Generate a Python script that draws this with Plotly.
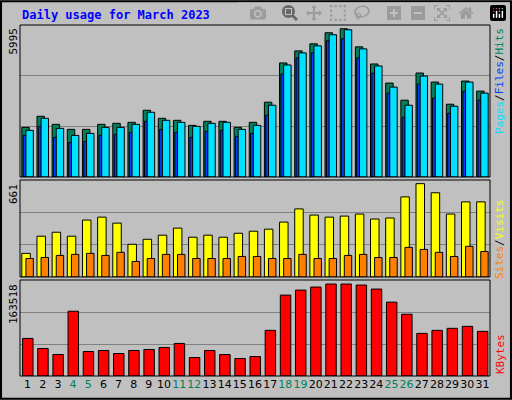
import plotly.graph_objects as go

days = list(range(1, 32))
weekend = [4, 5, 11, 12, 18, 19, 25, 26]

hits = [1958, 2395, 2077, 1879, 1879, 2077, 2117, 2156, 2633, 2315, 2236, 2037, 2196, 2196, 1958, 2156,
        2950, 4498, 4974, 5252, 5689, 5848, 5133, 4458, 3704, 3030, 4101, 3744, 2871, 3784, 3387]
pages = [1839, 2315, 1918, 1641, 1720, 1958, 1958, 2077, 2553, 2236, 2156, 1998, 2117, 2156, 1879, 2037,
         2831, 4419, 4895, 5173, 5610, 5808, 5054, 4379, 3546, 2831, 3982, 3665, 2792, 3744, 3308]
files = [1641, 1998, 1561, 1363, 1402, 1641, 1680, 1760, 2196, 1879, 1760, 1561, 1799, 1839, 1601, 1720,
         2434, 4062, 4697, 4895, 5371, 5451, 4697, 4101, 3308, 2355, 3665, 3109, 2514, 3387, 3030]
visits = [161, 278, 305, 278, 388, 408, 367, 223, 257, 285, 333, 271, 285, 271, 298, 312,
          326, 374, 464, 422, 408, 415, 429, 395, 402, 546, 636, 574, 429, 512, 512]
sites = [126, 133, 147, 154, 161, 147, 168, 106, 126, 154, 154, 126, 126, 126, 140, 140,
         126, 126, 154, 126, 126, 147, 154, 133, 133, 202, 188, 168, 140, 209, 174]
kbytes = [64030, 46880, 36590, 110340, 41730, 43450, 38300, 43450, 45160, 48590, 55450, 31440, 43450,
          36590, 29730, 33160, 77750, 137780, 146350, 151500, 156650, 156650, 154930, 148070, 125770,
          105190, 72610, 77750, 81180, 84610, 76040]
max_hits, max_visits, max_kb = 5995, 661, 163518

W, H = 512, 400
x0, x1 = 20 / W, 490 / W
def yd(top, bot):
    return [1 - bot / H, 1 - top / H]

fig = go.Figure()
line = dict(color="black", width=1)

def bar(y, color, off, w, ax):
    fig.add_trace(go.Bar(x=days, y=y, offset=off, width=w, marker=dict(color=color, line=line),
                         xaxis="x" + ax, yaxis="y" + ax, showlegend=False, hoverinfo="y"))

bar(hits, "#00805C", -0.38, 0.49, "")
bar(files, "#0040FF", -0.29, 0.2, "")
bar(pages, "#00E0FF", -0.11, 0.49, "")
bar(visits, "#FFFF00", -0.38, 0.56, "2")
bar(sites, "#FF8000", -0.11, 0.49, "2")
bar(kbytes, "#FF0000", -0.33, 0.69, "3")

ticktext = [f"<span style='color:#00805C'>{d}</span>" if d in weekend else str(d) for d in days]
xcommon = dict(range=[0.5, 31.5], domain=[x0, x1], showgrid=False, zeroline=False)
ycommon = dict(showticklabels=False, ticks="", gridcolor="#808080", gridwidth=1, zeroline=False)

fig.update_layout(
    width=W, height=H, margin=dict(l=0, r=0, t=0, b=0),
    paper_bgcolor="#C0C0C0", plot_bgcolor="#C0C0C0", barmode="overlay",
    font=dict(family="DejaVu Sans Mono", size=11, color="black"),
    xaxis=dict(**xcommon, showticklabels=False, anchor="y"),
    xaxis2=dict(**xcommon, showticklabels=False, anchor="y2"),
    xaxis3=dict(**xcommon, anchor="y3", tickvals=days, ticktext=ticktext, ticks="", tickangle=0,
                tickfont=dict(size=11, family="DejaVu Sans")),
    yaxis=dict(**ycommon, domain=yd(25, 177), range=[0, max_hits], tickvals=[max_hits / 3, 2 * max_hits / 3], anchor="x"),
    yaxis2=dict(**ycommon, domain=yd(180, 277), range=[0, max_visits], tickvals=[max_visits / 3, 2 * max_visits / 3], anchor="x2"),
    yaxis3=dict(**ycommon, domain=yd(280, 376), range=[0, max_kb], tickvals=[max_kb / 3, 2 * max_kb / 3], anchor="x3"),
)

shapes = [dict(type="rect", xref="paper", yref="paper", x0=0.002, x1=0.998, y0=0.003, y1=0.997,
               line=dict(color="black", width=2))]
for top, bot in [(25, 177), (180, 277), (280, 376)]:
    d = yd(top, bot)
    shapes.append(dict(type="rect", xref="paper", yref="paper", x0=x0, x1=x1, y0=d[0], y1=d[1],
                       line=dict(color="black", width=1)))
fig.update_layout(shapes=shapes)

ann = [dict(text="<b>Daily usage for March 2023</b>", x=20 / W, y=1 - 15 / H, xanchor="left", yanchor="middle",
            font=dict(color="#0000FF", size=12))]
for label, top in [(str(max_hits), 26), (str(max_visits), 182), (str(max_kb), 282)]:
    ann.append(dict(text=label, textangle=-90, x=13 / W, y=1 - top / H, xanchor="center", yanchor="top"))
ann.append(dict(text="<span style='color:#00E0FF'>Pages</span>/<span style='color:#0040FF'>Files</span>/<span style='color:#00805C'>Hits</span>",
                textangle=-90, x=500 / W, y=1 - 26 / H, xanchor="center", yanchor="top", font=dict(size=11)))
ann.append(dict(text="<span style='color:#FF8000'>Sites</span>/<span style='color:#FFFF00'>Visits</span>",
                textangle=-90, x=500 / W, y=1 - 197 / H, xanchor="center", yanchor="top", font=dict(size=11)))
ann.append(dict(text="<span style='color:#FF0000'>KBytes</span>",
                textangle=-90, x=500 / W, y=1 - 376 / H, xanchor="center", yanchor="bottom", font=dict(size=11)))
for a in ann:
    a.update(xref="paper", yref="paper", showarrow=False)
fig.update_layout(annotations=ann)

fig.write_html("out.html", post_script="document.body.style.margin='0';")
